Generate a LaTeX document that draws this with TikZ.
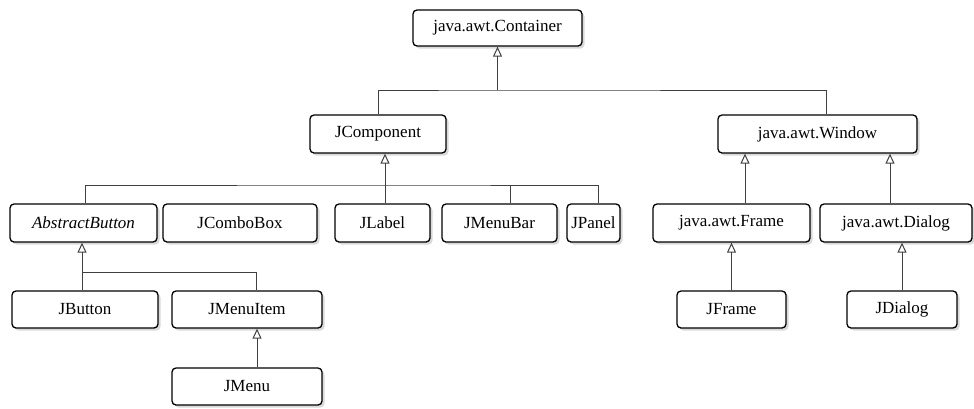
\documentclass[tikz,border=0pt]{standalone}
\usepackage{fontspec}
\setmainfont{Liberation Serif}
\usetikzlibrary{arrows.meta,shadows}
\tikzset{
  box/.style={draw=black, line width=1.3pt, rounded corners=4pt, fill=white,
    drop shadow={shadow xshift=2.5pt,shadow yshift=-2.5pt,opacity=0.3},
    inner sep=0pt, font=\fontsize{17}{19}\selectfont},
  wire/.style={draw=black!75, line width=1pt},
  inh/.style={wire, -{Triangle[open, length=10pt, width=9pt, line width=1pt]}},
}
\begin{document}
\begin{tikzpicture}[x=1pt,y=1pt]
\useasboundingbox (0,0) rectangle (974,-408);
% level 1
\node[box, minimum width=169pt, minimum height=36pt] (cont) at (497.5,-28) {java.awt.Container};
% level 2
\node[box, minimum width=136pt, minimum height=38pt] (jcomp) at (378,-134) {JComponent};
\node[box, minimum width=199pt, minimum height=38pt] (window) at (817.5,-134) {java.awt.Window};
% level 3
\node[box, minimum width=147pt, minimum height=38pt] (abtn) at (83.5,-223) {\itshape AbstractButton};
\node[box, minimum width=154pt, minimum height=38pt] (jcombo) at (240,-223) {JComboBox};
\node[box, minimum width=95pt, minimum height=38pt] (jlabel) at (382.5,-223) {JLabel};
\node[box, minimum width=115pt, minimum height=38pt] (jmenubar) at (499.5,-223) {JMenuBar};
\node[box, minimum width=53pt, minimum height=38pt] (jpanel) at (593.5,-223) {JPanel};
\node[box, minimum width=157pt, minimum height=38pt] (frame) at (731.5,-223) {java.awt.Frame};
\node[box, minimum width=152pt, minimum height=38pt] (dialog) at (896,-223) {java.awt.Dialog};
% level 4
\node[box, minimum width=146pt, minimum height=37pt] (jbutton) at (85,-309.5) {JButton};
\node[box, minimum width=150pt, minimum height=37pt] (jmenuitem) at (247,-309.5) {JMenuItem};
\node[box, minimum width=109pt, minimum height=37pt] (jframe) at (731.5,-309.5) {JFrame};
\node[box, minimum width=110pt, minimum height=37pt] (jdialog) at (902,-309.5) {JDialog};
% level 5
\node[box, minimum width=150pt, minimum height=37pt] (jmenu) at (247,-386.5) {JMenu};
% Container bus
\coordinate (b1) at (497.5,-90);
\draw[inh] (b1) -- (cont.south);
\draw[wire] (jcomp.north) |- (b1) -| ([xshift=8.5pt]window.north);
% JComponent bus
\coordinate (b2) at (385,-185);
\draw[inh] (b2) -- (b2 |- jcomp.south);
\draw[wire] (b2) -- (b2 |- jlabel.north);
\draw[wire] ([xshift=1.5pt]abtn.north) |- (b2) -| ([xshift=4.5pt]jpanel.north);
\draw[wire] ([xshift=10.5pt]jmenubar.north) -- ([xshift=10.5pt]jmenubar.north |- b2);
% Window children
\draw[inh] ([xshift=13.5pt]frame.north) -- ([xshift=13.5pt]frame.north |- window.south);
\draw[inh] ([xshift=-6pt]dialog.north) -- ([xshift=-6pt]dialog.north |- window.south);
% AbstractButton bus
\coordinate (b3) at (82,-272);
\draw[inh] (b3) -- (b3 |- abtn.south);
\draw[wire] (b3 |- jbutton.north) -- (b3) -| ([xshift=9pt]jmenuitem.north);
% JMenuItem -> JMenu
\draw[inh] ([xshift=10pt]jmenu.north) -- ([xshift=10pt]jmenu.north |- jmenuitem.south);
% Frame / Dialog children
\draw[inh] (jframe.north) -- (jframe.north |- frame.south);
\draw[inh] (jdialog.north) -- (jdialog.north |- dialog.south);
\end{tikzpicture}
\end{document}
